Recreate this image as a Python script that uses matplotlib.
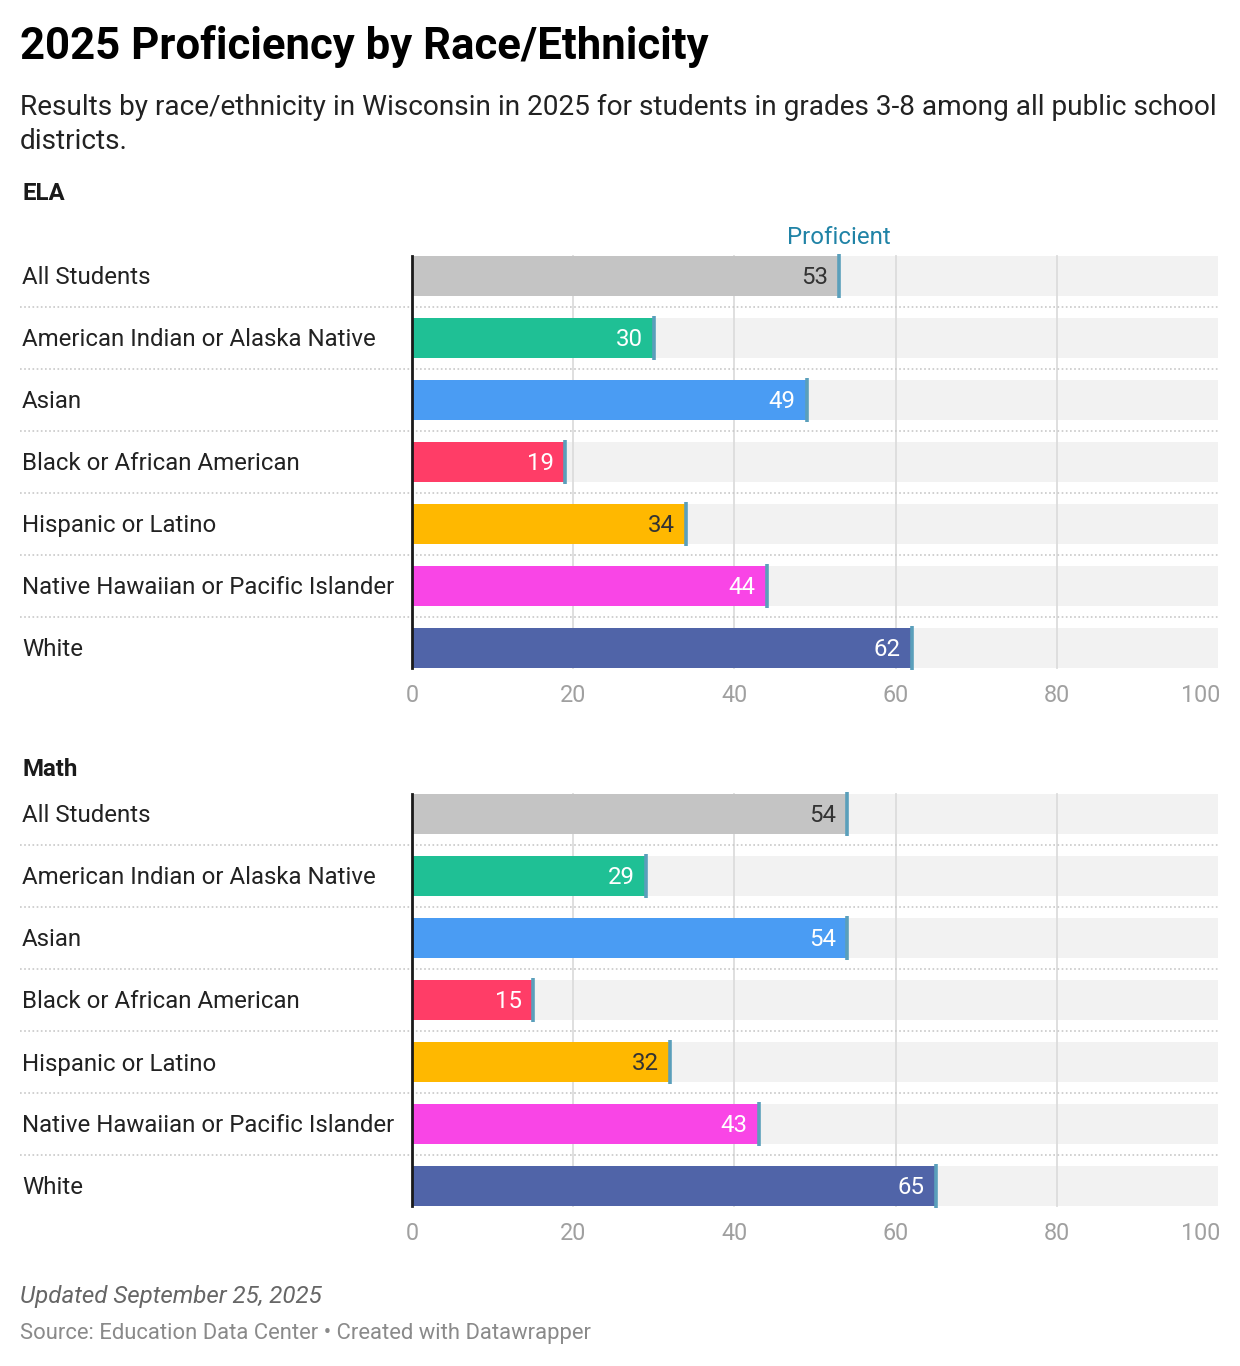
import matplotlib
matplotlib.use("Agg")
import matplotlib.pyplot as plt
import matplotlib.transforms as mtransforms

plt.rcParams['font.family'] = ['Roboto', 'DejaVu Sans']

# ---- data ----
groups = ['All Students', 'American Indian or Alaska Native', 'Asian',
          'Black or African American', 'Hispanic or Latino',
          'Native Hawaiian or Pacific Islander', 'White']
ela = [53, 30, 49, 19, 34, 44, 62]
math = [54, 29, 54, 15, 32, 43, 65]
ticks = [0, 20, 40, 60, 80, 100]

colors = ['#c4c4c4', '#1fc095', '#4a9cf3', '#ff3d67', '#ffb800', '#f945e6', '#5064a8']
label_colors = ['#333333', 'white', 'white', 'white', '#333333', 'white', 'white']

W, H = 1240, 1366
fig = plt.figure(figsize=(W / 100, H / 100), dpi=100)
fig.patch.set_facecolor('white')


def fy(px):
    return 1 - px / H


def fx(px):
    return px / W


# ---- header ----
fig.text(fx(20), fy(47), '2025 Proficiency by Race/Ethnicity', fontsize=31.5,
         fontweight='bold', va='center', ha='left', color='black')
fig.text(fx(20), fy(94), 'Results by race/ethnicity in Wisconsin in 2025 for students in grades 3-8 among all public school\ndistricts.',
         fontsize=20.2, va='top', ha='left', color='#222222', linespacing=1.33)


def panel(top_px, values, title, show_prof):
    row = 62
    n = len(values)
    ax = fig.add_axes([fx(412), fy(top_px + row * n), fx(806), row * n / H])
    ax.set_xlim(0, 100)
    ax.set_ylim(n - 0.5, -0.5)
    for s in ax.spines.values():
        s.set_visible(False)
    ax.set_yticks([])
    ax.set_xticks([])
    bh = 40 / row
    dy = 2 / row  # small nudge so text sits centred like the original
    y = list(range(n))
    # background bands
    ax.barh(y, [100] * n, height=bh, color='#f2f2f2', zorder=0)
    # gridlines
    for t in ticks[1:-1]:
        ax.plot([t, t], [-bh / 2, n - 1 + bh / 2], color='#dcdcdc', lw=1.3, zorder=1)
    # bars
    ax.barh(y, values, height=bh, color=colors, zorder=2)
    # baseline
    ax.plot([0, 0], [-bh / 2, n - 1 + bh / 2], color='#1a1a1a', lw=2, zorder=4, clip_on=False)
    # proficient markers
    for i, v in enumerate(values):
        ax.plot([v, v], [i - bh / 2 - 0.03, i + bh / 2 + 0.03], color='#5a9fbb', lw=2.6,
                zorder=3, solid_capstyle='butt', clip_on=False)
        ax.annotate(str(v), (v, i + dy), xytext=(-8, 0), textcoords='offset points',
                    ha='right', va='center', fontsize=17.3, color=label_colors[i], zorder=5)
    # separators and row labels
    trans = mtransforms.blended_transform_factory(ax.transAxes, ax.transData)
    x0 = (20 - 412) / 806
    for i in range(n - 1):
        ax.plot([x0, 1], [i + 0.5, i + 0.5], color='#c8c8c8', lw=1.2,
                linestyle=(0, (1, 1.5)), transform=trans, clip_on=False, zorder=1)
    for i, g in enumerate(groups):
        ax.text((22 - 412) / 806, i + dy, g, transform=trans, ha='left', va='center',
                fontsize=17.3, color='#222222')
    # tick labels
    for t in ticks:
        ha = 'center'
        xt = t
        if t == 100:
            ha = 'right'
            xt = 100.3
        ax.text(xt, n - 1 + bh / 2 + 28 / row, str(t), ha=ha, va='center',
                fontsize=16.8, color='#a0a0a0', clip_on=False)
    # panel title
    fig.text(fx(22), fy(top_px - 52 if show_prof else top_px - 14), title, fontsize=17.3,
             fontweight='bold', va='center', ha='left', color='#1a1a1a')
    if show_prof:
        ax.text(values[0], -0.5 - 8 / row, 'Proficient', ha='center', va='center',
                fontsize=17.3, color='#2083a6', clip_on=False)
    return ax


panel(245, ela, 'ELA', True)
panel(783, math, 'Math', False)

# ---- footer ----
fig.text(fx(20), fy(1297), 'Updated September 25, 2025', fontsize=17.4, style='italic',
         va='center', ha='left', color='#666666')
fig.text(fx(20), fy(1333), 'Source: Education Data Center \u2022 Created with Datawrapper',
         fontsize=15.8, va='center', ha='left', color='#8a8a8a')

fig.savefig('out.png', dpi=100, facecolor='white')
